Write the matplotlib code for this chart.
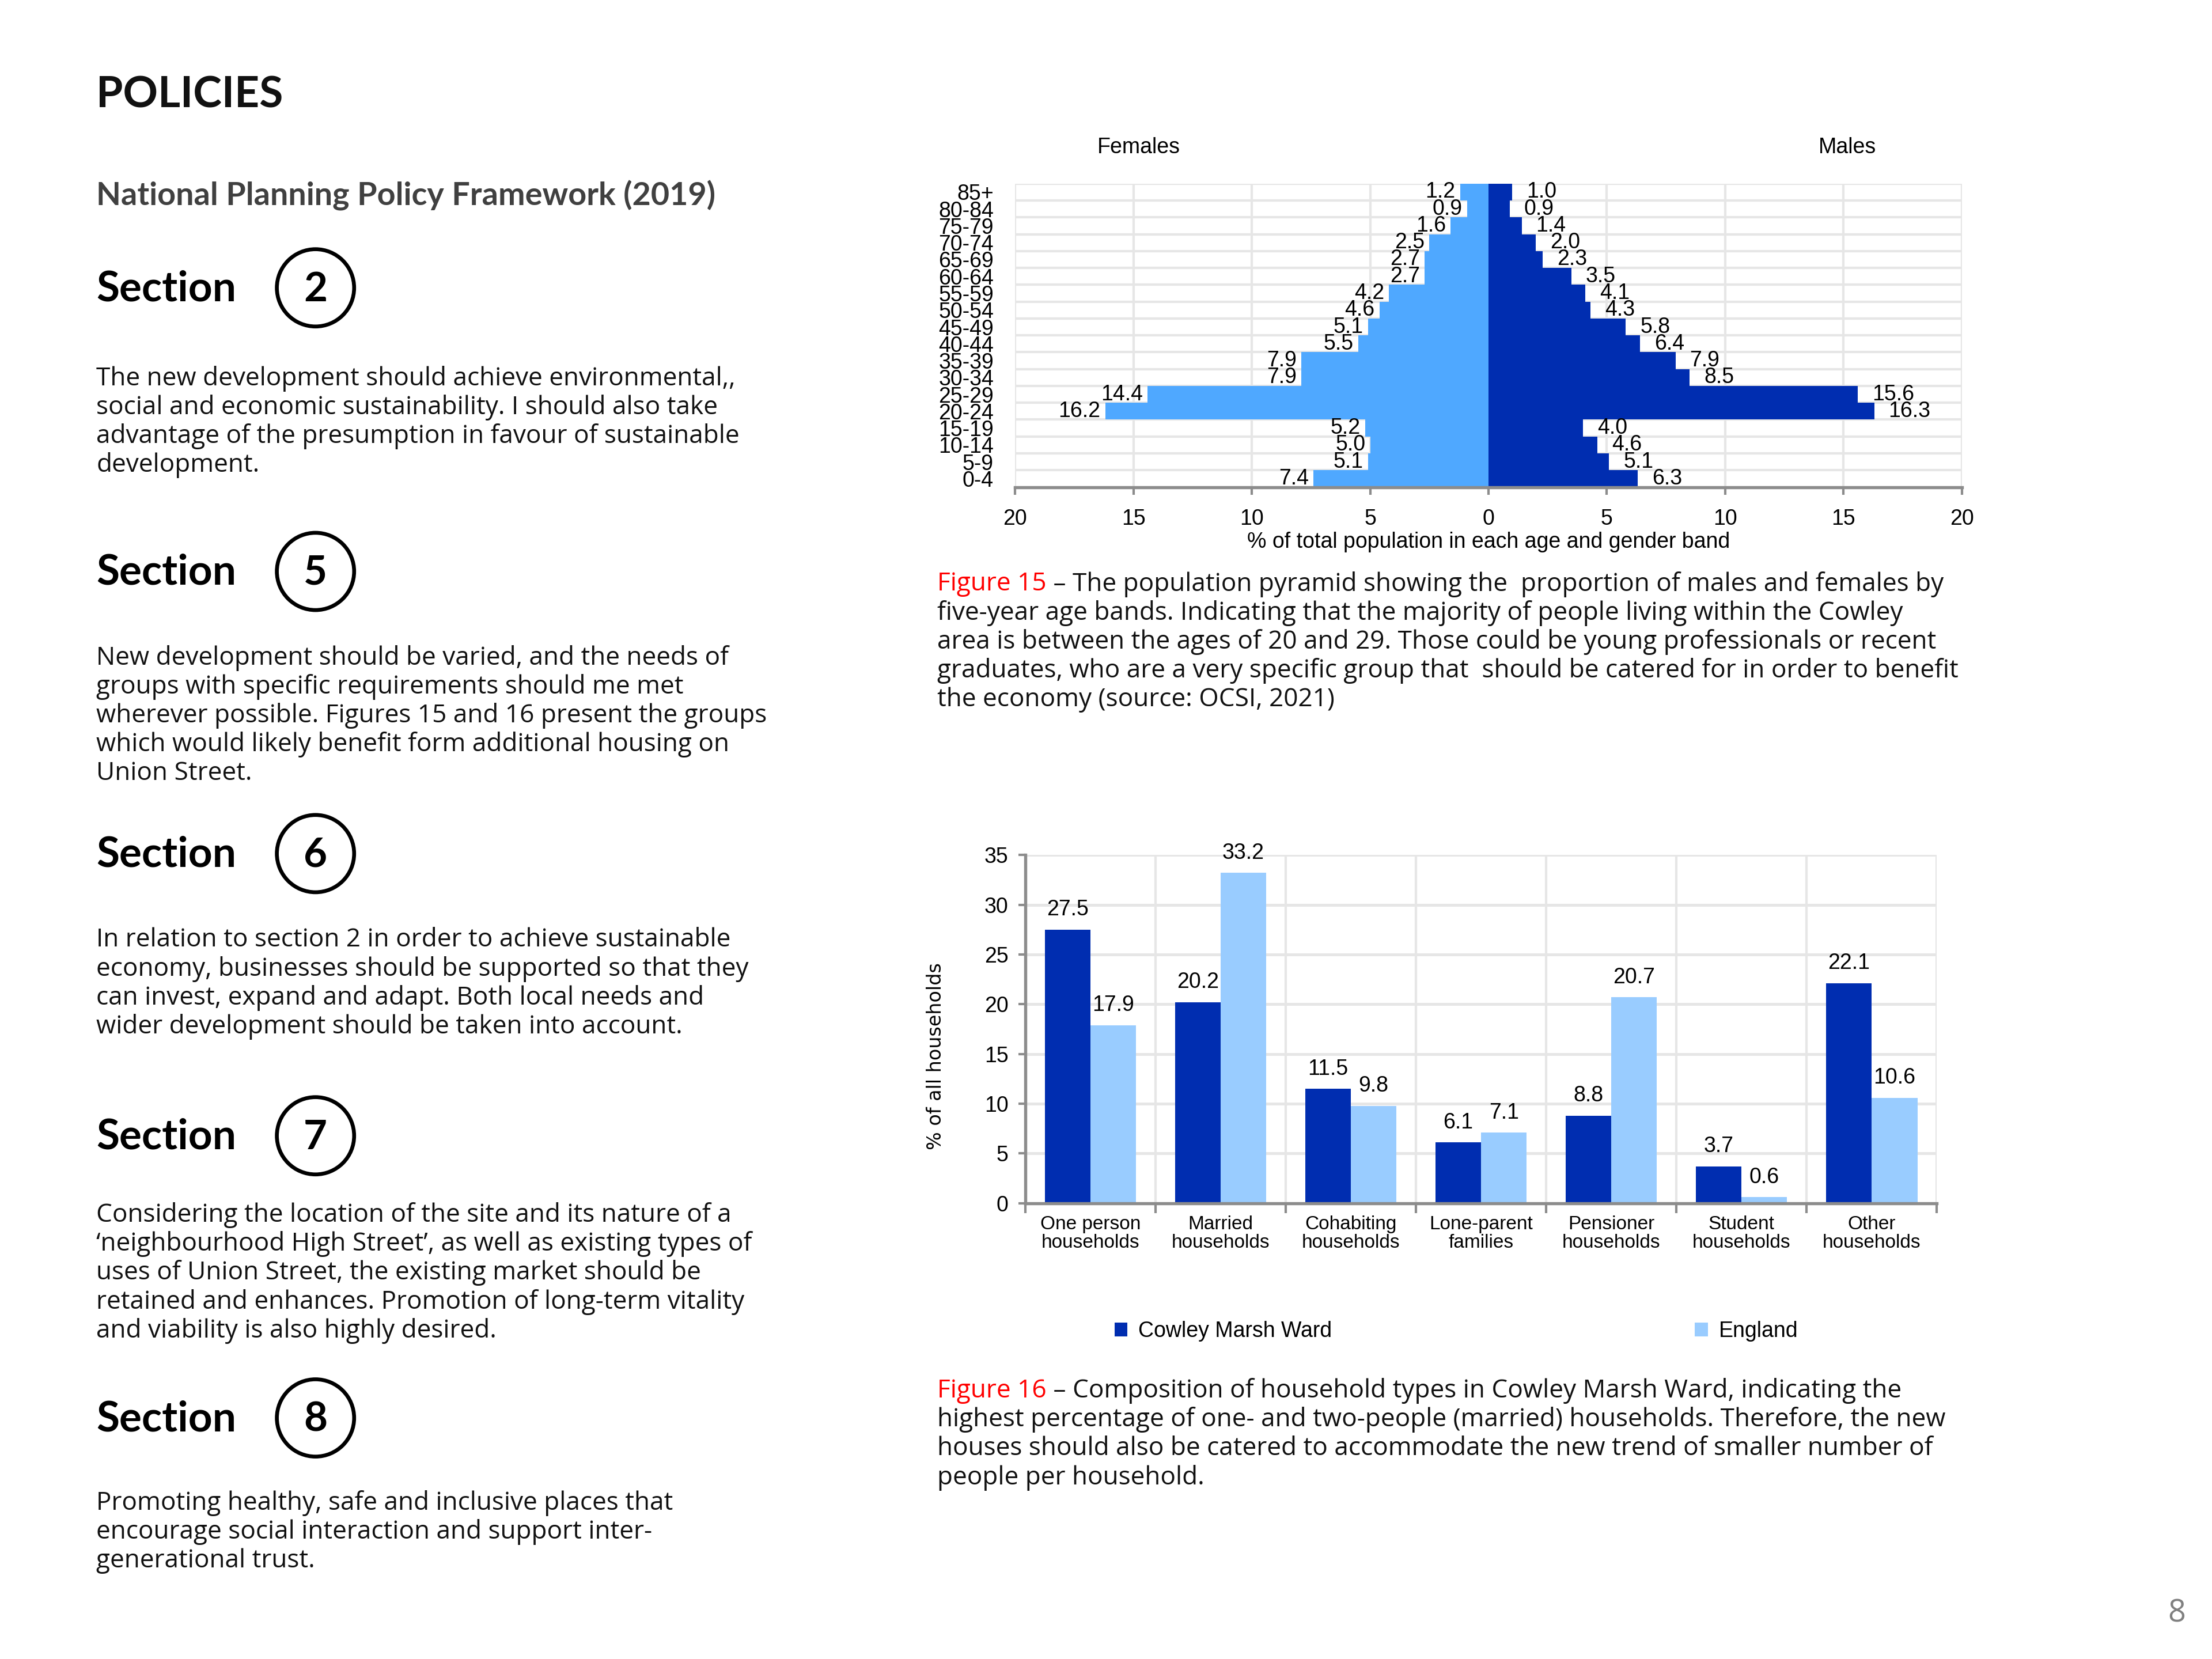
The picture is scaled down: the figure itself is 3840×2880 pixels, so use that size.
import matplotlib
matplotlib.use("Agg")
import matplotlib.pyplot as plt
from matplotlib.patches import Ellipse
import numpy as np

# ---------------- data ----------------
age_bands = ["0-4", "5-9", "10-14", "15-19", "20-24", "25-29", "30-34", "35-39", "40-44",
             "45-49", "50-54", "55-59", "60-64", "65-69", "70-74", "75-79", "80-84", "85+"]
females = [7.4, 5.1, 5.0, 5.2, 16.2, 14.4, 7.9, 7.9, 5.5, 5.1, 4.6, 4.2, 2.7, 2.7, 2.5, 1.6, 0.9, 1.2]
males = [6.3, 5.1, 4.6, 4.0, 16.3, 15.6, 8.5, 7.9, 6.4, 5.8, 4.3, 4.1, 3.5, 2.3, 2.0, 1.4, 0.9, 1.0]
pyr_ticks = [-20, -15, -10, -5, 0, 5, 10, 15, 20]
pyr_tick_labels = ["20", "15", "10", "5", "0", "5", "10", "15", "20"]

household_types = ["One person\nhouseholds", "Married\nhouseholds", "Cohabiting\nhouseholds",
                   "Lone-parent\nfamilies", "Pensioner\nhouseholds", "Student\nhouseholds",
                   "Other\nhouseholds"]
cowley = [27.5, 20.2, 11.5, 6.1, 8.8, 3.7, 22.1]
england = [17.9, 33.2, 9.8, 7.1, 20.7, 0.6, 10.6]
bar_yticks = [0, 5, 10, 15, 20, 25, 30, 35]

sections = ["2", "5", "6", "7", "8"]
section_texts = [
    ["The new development should achieve environmental,,",
     "social and economic sustainability. I should also take",
     "advantage of the presumption in favour of sustainable",
     "development."],
    ["New development should be varied, and the needs of",
     "groups with specific requirements should me met",
     "wherever possible. Figures 15 and 16 present the groups",
     "which would likely benefit form additional housing on",
     "Union Street."],
    ["In relation to section 2 in order to achieve sustainable",
     "economy, businesses should be supported so that they",
     "can invest, expand and adapt. Both local needs and",
     "wider development should be taken into account."],
    ["Considering the location of the site and its nature of a",
     "\u2018neighbourhood High Street\u2019, as well as existing types of",
     "uses of Union Street, the existing market should be",
     "retained and enhances. Promotion of long-term vitality",
     "and viability is also highly desired."],
    ["Promoting healthy, safe and inclusive places that",
     "encourage social interaction and support inter-",
     "generational trust."],
]
cap15 = ["The population pyramid showing the  proportion of males and females by",
         "five-year age bands. Indicating that the majority of people living within the Cowley",
         "area is between the ages of 20 and 29. Those could be young professionals or recent",
         "graduates, who are a very specific group that  should be catered for in order to benefit",
         "the economy (source: OCSI, 2021)"]
cap16 = ["Composition of household types in Cowley Marsh Ward, indicating the",
         "highest percentage of one- and two-people (married) households. Therefore, the new",
         "houses should also be catered to accommodate the new trend of smaller number of",
         "people per household."]

# ---------------- style ----------------
FEM = "#4FA8FF"
MAL = "#002DB0"
DARK = "#002DB0"
LIGHT = "#99CCFF"
GRID = "#E6E6E6"
AXC = "#8C8C8C"
BODY_FONT = ["Open Sans", "DejaVu Sans"]
HEAD_FONT = ["Lato", "DejaVu Sans"]
CHART_FONT = ["Liberation Sans", "DejaVu Sans"]

W, H = 1560.0, 1170.0


def fx(x):
    return x / W


def fy(y):
    return 1 - y / H


fig = plt.figure(figsize=(12.8, 9.6), dpi=300)
fig.patch.set_facecolor("white")

# ---------------- left column text ----------------
fig.text(fx(68), fy(67), "POLICIES", family=HEAD_FONT, weight="bold", size=18,
         color="#111111", va="center", ha="left")
fig.text(fx(68), fy(138), "National Planning Policy Framework (2019)", family=HEAD_FONT,
         weight="bold", size=13.4, color="#404040", va="center", ha="left")

sec_y = [204, 404, 603, 802, 1001]
para_start = [267, 464, 663, 857, 1060]
line_step = 20.4
BODY_SIZE = 10.6
for s, sy, ps, lines in zip(sections, sec_y, para_start, section_texts):
    fig.text(fx(68), fy(sy), "Section", family=HEAD_FONT, weight="bold", size=17.5,
             color="black", va="center", ha="left")
    fig.add_artist(Ellipse((fx(222.5), fy(sy - 1)), 54.5 / W, 54.5 / H, transform=fig.transFigure,
                           fill=False, lw=1.6, ec="black"))
    fig.text(fx(222.5), fy(sy), s, family=HEAD_FONT, weight="bold", size=17,
             color="black", va="center", ha="center")
    for k, ln in enumerate(lines):
        fig.text(fx(68), fy(ps + k * line_step), ln, family=BODY_FONT, size=BODY_SIZE,
                 color="#111111", va="center", ha="left")

renderer = fig.canvas.get_renderer()


def caption(label, lines, y0):
    t = fig.text(fx(661), fy(y0), label, family=BODY_FONT, size=BODY_SIZE, color="#FF0000",
                 va="center", ha="left")
    bb = t.get_window_extent(renderer=renderer)
    x1 = fig.transFigure.inverted().transform((bb.x1, bb.y0))[0]
    for k, ln in enumerate(lines):
        if k == 0:
            fig.text(x1, fy(y0), " \u2013 " + ln, family=BODY_FONT, size=BODY_SIZE,
                     color="#111111", va="center", ha="left")
        else:
            fig.text(fx(661), fy(y0 + k * line_step), ln, family=BODY_FONT, size=BODY_SIZE,
                     color="#111111", va="center", ha="left")


caption("Figure 15", cap15, 412)
caption("Figure 16", cap16, 981)

fig.text(fx(1535), fy(1138), "8", family=["Open Sans", "DejaVu Sans"], size=13,
         color="#808080", va="center", ha="center")

# ---------------- population pyramid ----------------
axp = fig.add_axes([fx(716), fy(343.5), fx(1383.5) - fx(716), fy(129.5) - fy(343.5)])
yy = np.arange(len(age_bands))
axp.barh(yy, [-v for v in females], height=1.0, color=FEM, zorder=2, lw=0)
axp.barh(yy, males, height=1.0, color=MAL, zorder=2, lw=0)
axp.set_xlim(-20, 20)
axp.set_ylim(-0.5, len(age_bands) - 0.5)
axp.set_xticks(pyr_ticks)
axp.set_xticklabels(pyr_tick_labels, family=CHART_FONT, size=9)
axp.set_yticks(yy)
axp.set_yticklabels(age_bands, family=CHART_FONT, size=9)
axp.set_yticks(np.arange(-0.5, len(age_bands), 1.0), minor=True)
axp.set_axisbelow(True)
axp.grid(which="minor", axis="y", color=GRID, lw=1.0, zorder=0)
axp.grid(which="major", axis="x", color=GRID, lw=1.0, zorder=0)
for sp in ["top", "right", "left"]:
    axp.spines[sp].set_visible(False)
axp.spines["bottom"].set_color(AXC)
axp.spines["bottom"].set_linewidth(1.3)
axp.tick_params(axis="x", which="major", length=3, width=1, color=AXC, pad=6)
axp.tick_params(axis="y", which="both", length=0, pad=9)
axp.tick_params(axis="y", which="minor", length=0)
for i, v in enumerate(females):
    axp.annotate(f"{v:.1f}", xy=(-v, i), xytext=(-2, 0), textcoords="offset points",
                 ha="right", va="center", family=CHART_FONT, size=9, zorder=3)
for i, v in enumerate(males):
    axp.annotate(f"{v:.1f}", xy=(v, i), xytext=(6, 0), textcoords="offset points",
                 ha="left", va="center", family=CHART_FONT, size=9, zorder=3)
axp.set_xlabel("% of total population in each age and gender band", family=CHART_FONT,
               size=9, labelpad=1)
fig.text(fx(803), fy(104), "Females", family=CHART_FONT, size=9, ha="center", va="center")
fig.text(fx(1303), fy(104), "Males", family=CHART_FONT, size=9, ha="center", va="center")

# ---------------- household bar chart ----------------
axb = fig.add_axes([fx(723), fy(848.6), fx(1366) - fx(723), fy(603) - fy(848.6)])
xx = np.arange(len(household_types))
bw = 0.35
axb.bar(xx - bw / 2, cowley, bw, color=DARK, label="Cowley Marsh Ward", zorder=2, lw=0)
axb.bar(xx + bw / 2, england, bw, color=LIGHT, label="England", zorder=2, lw=0)
axb.set_xlim(-0.5, len(household_types) - 0.5)
axb.set_ylim(0, 35)
axb.set_yticks(bar_yticks)
axb.set_yticklabels([str(t) for t in bar_yticks], family=CHART_FONT, size=9)
axb.set_xticks(xx)
axb.set_xticklabels(household_types, family=CHART_FONT, size=8, linespacing=1.05)
axb.set_xticks(np.arange(-0.5, len(household_types), 1.0), minor=True)
axb.set_axisbelow(True)
axb.grid(which="major", axis="y", color=GRID, lw=1.2, zorder=0)
axb.grid(which="minor", axis="x", color=GRID, lw=1.0, zorder=0)
for sp in ["top", "right"]:
    axb.spines[sp].set_visible(False)
for sp in ["left", "bottom"]:
    axb.spines[sp].set_color(AXC)
    axb.spines[sp].set_linewidth(1.3)
axb.tick_params(axis="x", which="major", length=0, pad=5)
axb.tick_params(axis="x", which="minor", length=4, width=1, color=AXC)
axb.tick_params(axis="y", which="major", length=3, width=1, color=AXC, pad=4)
for i, v in enumerate(cowley):
    axb.annotate(f"{v:.1f}", xy=(i - bw / 2, v), xytext=(0, 4), textcoords="offset points",
                 ha="center", va="bottom", family=CHART_FONT, size=9)
for i, v in enumerate(england):
    axb.annotate(f"{v:.1f}", xy=(i + bw / 2, v), xytext=(0, 4), textcoords="offset points",
                 ha="center", va="bottom", family=CHART_FONT, size=9)
fig.text(fx(660), fy(745), "% of all households", family=["DejaVu Sans"], size=8,
         rotation=90, ha="center", va="center")
leg = fig.legend(loc="center", bbox_to_anchor=(fx(1027), fy(939)), ncol=2, frameon=False,
                 prop={"family": CHART_FONT, "size": 9}, handlelength=0.6, handleheight=0.6,
                 handletextpad=0.5, columnspacing=16.8)

fig.savefig("out.png", dpi=300, facecolor="white")
